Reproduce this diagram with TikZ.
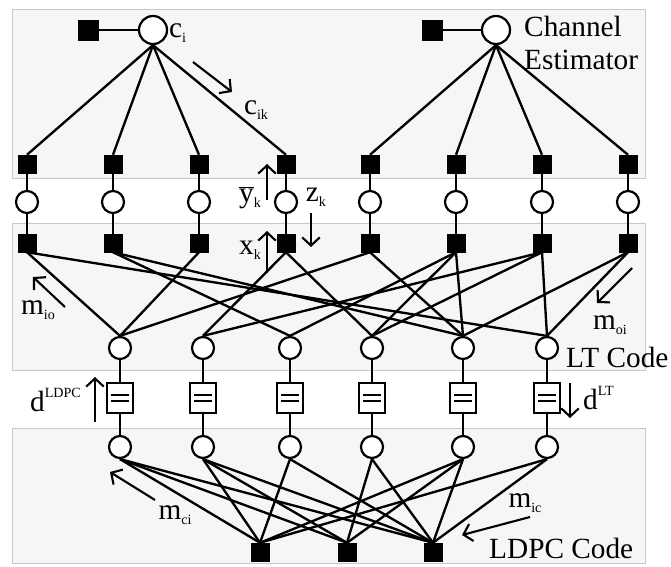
\documentclass[tikz,border=0pt]{standalone}
\usepackage{fontspec}
\setmainfont{Liberation Serif}
\usepackage{tikz}
\usetikzlibrary{arrows.meta,positioning}
\definecolor{panel}{RGB}{246,246,246}
\definecolor{rim}{RGB}{200,200,200}
\tikzstyle{chk} = [rectangle, fill=black, draw=black, minimum size=5.4mm, inner sep=0pt]
\tikzstyle{var} = [circle, draw=black, line width=1.9pt, fill=white, minimum size=6.6mm, inner sep=0pt]
\tikzstyle{est} = [circle, draw=black, line width=1.9pt, fill=white, minimum size=8.4mm, inner sep=0pt]
\tikzstyle{eqbox} = [rectangle, draw=black, line width=1.9pt, fill=white, minimum width=7.8mm, minimum height=9mm, inner sep=0pt,
  path picture={\draw[line width=1.5pt] ([xshift=-2.6mm,yshift=1mm]path picture bounding box.center) -- ++(5.2mm,0)
    ([xshift=-2.6mm,yshift=-1mm]path picture bounding box.center) -- ++(5.2mm,0);}]
\tikzstyle{edge} = [line width=2pt]
\tikzstyle{arrow} = [line width=1.8pt,-{Straight Barb[length=7pt,width=15pt]}]
\tikzstyle{panelbox} = [draw=rim, fill=panel, line width=0.7pt]
\tikzstyle{lbl} = [inner sep=0pt, font=\fontsize{25}{28}\selectfont]
\newcommand{\lsub}[2]{#1\raisebox{-0.35ex}{\fontsize{12}{12}\selectfont #2}}
\newcommand{\lsup}[2]{#1\raisebox{1.1ex}{\fontsize{12}{12}\selectfont #2}}

\begin{document}
\begin{tikzpicture}[x=0.3mm,y=-0.3mm]
\useasboundingbox (0,0) rectangle (671,566);
\draw[panelbox] (12,9) rectangle (645,178);
\draw[panelbox] (12,223) rectangle (645,370);
\draw[panelbox] (12,428) rectangle (645,563);

\node (e1sq) [chk, minimum size=6mm] at (88,30) {};
\node (e1) [est] at (153,30) {};
\node (e2sq) [chk, minimum size=6mm] at (432,30) {};
\node (e2) [est] at (496,30) {};

\node (a1) [chk] at (27,164) {};
\node (a2) [chk] at (113,164) {};
\node (a3) [chk] at (199,164) {};
\node (a4) [chk] at (286,164) {};
\node (a5) [chk] at (370,164) {};
\node (a6) [chk] at (456,164) {};
\node (a7) [chk] at (542,164) {};
\node (a8) [chk] at (628,164) {};

\node (b1) [var] at (27,202) {};
\node (b2) [var] at (113,202) {};
\node (b3) [var] at (199,202) {};
\node (b4) [var] at (286,202) {};
\node (b5) [var] at (370,202) {};
\node (b6) [var] at (456,202) {};
\node (b7) [var] at (542,202) {};
\node (b8) [var] at (628,202) {};

\node (s1) [chk] at (27,243) {};
\node (s2) [chk] at (113,243) {};
\node (s3) [chk] at (199,243) {};
\node (s4) [chk] at (286,243) {};
\node (s5) [chk] at (370,243) {};
\node (s6) [chk] at (456,243) {};
\node (s7) [chk] at (542,243) {};
\node (s8) [chk] at (628,243) {};

\node (l1) [var] at (120,348) {};
\node (l2) [var] at (203,348) {};
\node (l3) [var] at (290,348) {};
\node (l4) [var] at (372,348) {};
\node (l5) [var] at (463,348) {};
\node (l6) [var] at (547,348) {};

\node (q1) [eqbox] at (120,398) {};
\node (q2) [eqbox] at (203,398) {};
\node (q3) [eqbox] at (290,398) {};
\node (q4) [eqbox] at (372,398) {};
\node (q5) [eqbox] at (463,398) {};
\node (q6) [eqbox] at (547,398) {};

\node (d1) [var] at (120,447) {};
\node (d2) [var] at (203,447) {};
\node (d3) [var] at (290,447) {};
\node (d4) [var] at (372,447) {};
\node (d5) [var] at (463,447) {};
\node (d6) [var] at (547,447) {};

\node (p1) [chk] at (260,552) {};
\node (p2) [chk] at (347,552) {};
\node (p3) [chk] at (433,552) {};

\draw[edge] (e1sq) -- (e1);
\draw[edge] (e2sq) -- (e2);
\foreach \t in {a1,a2,a3,a4} \draw[edge] (e1.south) -- (\t.north);
\foreach \t in {a5,a6,a7,a8} \draw[edge] (e2.south) -- (\t.north);
\foreach \i in {1,...,8} \draw[edge] (a\i) -- (b\i) -- (s\i);
\foreach \i in {1,...,6} \draw[edge] (l\i) -- (q\i) -- (d\i);

\foreach \s/\l in {s1/l1,s1/l6,s2/l3,s2/l5,s3/l1,s4/l2,s4/l4,s5/l1,s5/l5,
  s6/l3,s6/l4,s6/l5,s7/l2,s7/l4,s7/l6,s8/l5,s8/l6}
  \draw[edge] (\s.south) -- (\l.north);

\foreach \d/\p in {d1/p1,d1/p2,d1/p3,d2/p1,d2/p2,d2/p3,d3/p1,d3/p3,
  d4/p2,d4/p3,d5/p1,d5/p2,d5/p3,d6/p1,d6/p3}
  \draw[edge] (\d.south) -- (\p.north);

\node (ci) [lbl, anchor=west] at (169,33) {\lsub{c}{i}};
\node (cik) [lbl] at (256,110) {\lsub{c}{ik}};
\node (chan) [lbl, anchor=west, align=left] at (524,43) {Channel\\Estimator};
\node (yk) [lbl] at (250,198) {\lsub{$\overline{\hbox{y}}$}{k}};
\node (zk) [lbl] at (316,197) {\lsub{z}{k}};
\node (xk) [lbl] at (250,250) {\lsub{x}{k}};
\node (mio) [lbl] at (38,310) {\lsub{m}{io}};
\node (moi) [lbl] at (610,325) {\lsub{m}{oi}};
\node (ltc) [lbl, anchor=west] at (566,357) {LT Code};
\node (dldpc) [lbl, anchor=west] at (30,400) {\lsup{d}{LDPC}};
\node (dlt) [lbl, anchor=west] at (583,398) {\lsup{d}{LT}};
\node (mci) [lbl] at (175,515) {\lsub{m}{ci}};
\node (mic) [lbl] at (525,503) {\lsub{m}{ic}};
\node (ldpcc) [lbl, anchor=west] at (489,548) {LDPC Code};

\coordinate (cik0) at (193,62);
\coordinate (cik1) at (232,92);
\coordinate (yk0) at (267,200);
\coordinate (yk1) at (267,164);
\coordinate (zk0) at (311,213);
\coordinate (zk1) at (311,247);
\coordinate (xk0) at (267,273);
\coordinate (xk1) at (267,231);
\coordinate (mio0) at (65,307);
\coordinate (mio1) at (33,277);
\coordinate (moi0) at (632,268);
\coordinate (moi1) at (597,303);
\coordinate (dl0) at (95,422);
\coordinate (dl1) at (95,377);
\coordinate (dt0) at (570,383);
\coordinate (dt1) at (570,418);
\coordinate (mci0) at (155,500);
\coordinate (mci1) at (110,472);
\coordinate (mic0) at (530,517);
\coordinate (mic1) at (462,535);
\draw[arrow] (cik0) -- (cik1);
\draw[arrow] (yk0) -- (yk1);
\draw[arrow] (zk0) -- (zk1);
\draw[arrow] (xk0) -- (xk1);
\draw[arrow] (mio0) -- (mio1);
\draw[arrow] (moi0) -- (moi1);
\draw[arrow] (dl0) -- (dl1);
\draw[arrow] (dt0) -- (dt1);
\draw[arrow] (mci0) -- (mci1);
\draw[arrow] (mic0) -- (mic1);
\end{tikzpicture}
\end{document}
